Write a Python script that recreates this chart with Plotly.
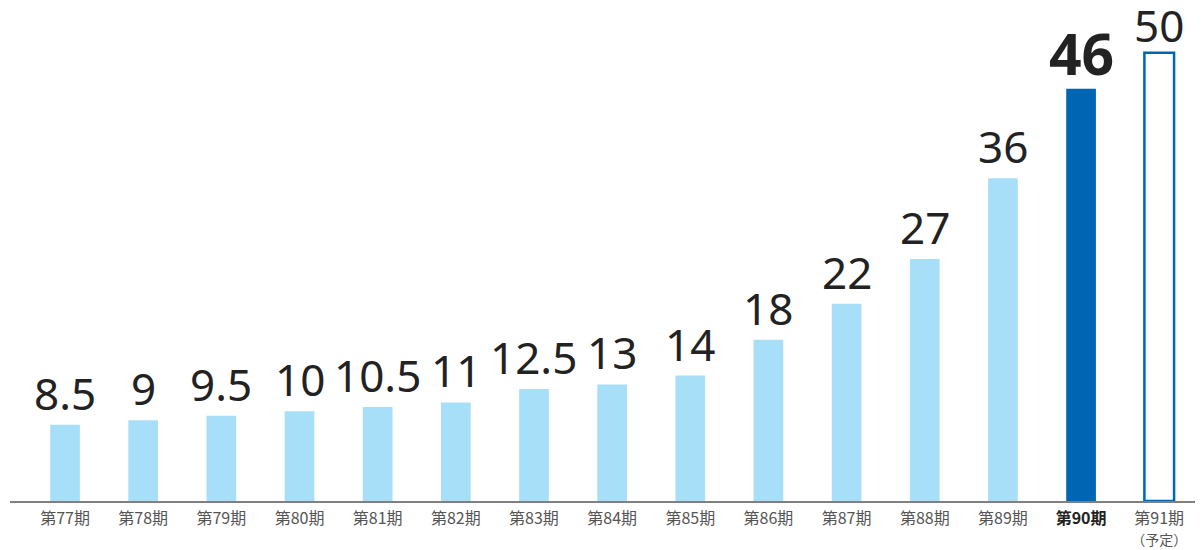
import plotly.graph_objects as go

categories = ["第77期", "第78期", "第79期", "第80期", "第81期", "第82期", "第83期", "第84期",
              "第85期", "第86期", "第87期", "第88期", "第89期", "第90期", "第91期"]
tick_labels = ["第77期", "第78期", "第79期", "第80期", "第81期", "第82期", "第83期", "第84期",
               "第85期", "第86期", "第87期", "第88期", "第89期",
               "<b><span style='color:#222222'>第90期</span></b>",
               "第91期<br><span style='font-size:14px'>（予定）</span>"]
values = [8.5, 9, 9.5, 10, 10.5, 11, 12.5, 13, 14, 18, 22, 27, 36, 46, 50]
value_labels = ["8.5", "9", "9.5", "10", "10.5", "11", "12.5", "13", "14", "18", "22", "27", "36",
                "<b>46</b>", "50"]

light = "#a8dff8"
dark = "#0066b3"
fill_colors = [light] * 13 + [dark, "#ffffff"]
line_colors = [light] * 13 + [dark, dark]
line_widths = [0] * 13 + [0, 2.5]
text_sizes = [44] * 13 + [57, 44]

x = list(range(len(categories)))

fig = go.Figure(go.Bar(
    x=x, y=values,
    width=0.38,
    marker=dict(color=fill_colors, line=dict(color=line_colors, width=line_widths)),
    hoverinfo="skip",
))

for i, (xi, v, lab, sz) in enumerate(zip(x, values, value_labels, text_sizes)):
    kw = dict(yshift=0)
    if i == 13:
        kw = dict(yshift=-5)
    elif i == 14:
        kw = dict(height=48, valign="middle", yshift=2)
    fig.add_annotation(
        x=xi, y=v, xref="x", yref="y", text=lab, showarrow=False,
        yanchor="bottom", xanchor="center",
        font=dict(size=sz, color="#222222", family="Noto Sans, sans-serif"),
        **kw,
    )

# page body has an 8px margin, so the figure is sized/offset to fill the 1203x550 window
fig.update_layout(
    width=1195, height=542,
    margin=dict(l=2, r=0, t=0, b=49, autoexpand=False),
    paper_bgcolor="white", plot_bgcolor="white",
    showlegend=False,
    xaxis=dict(
        tickmode="array", tickvals=x, ticktext=tick_labels,
        range=[-0.704, 14.56], automargin=False,
        showgrid=False, zeroline=False,
        showline=True, linecolor="#808080", linewidth=2,
        ticks="", ticklabelstandoff=2,
        tickfont=dict(size=16, color="#555555", family="Noto Sans CJK JP"),
    ),
    yaxis=dict(range=[0, 55.0], visible=False, showgrid=False, zeroline=False, automargin=False),
)

fig.write_html("out.html")
